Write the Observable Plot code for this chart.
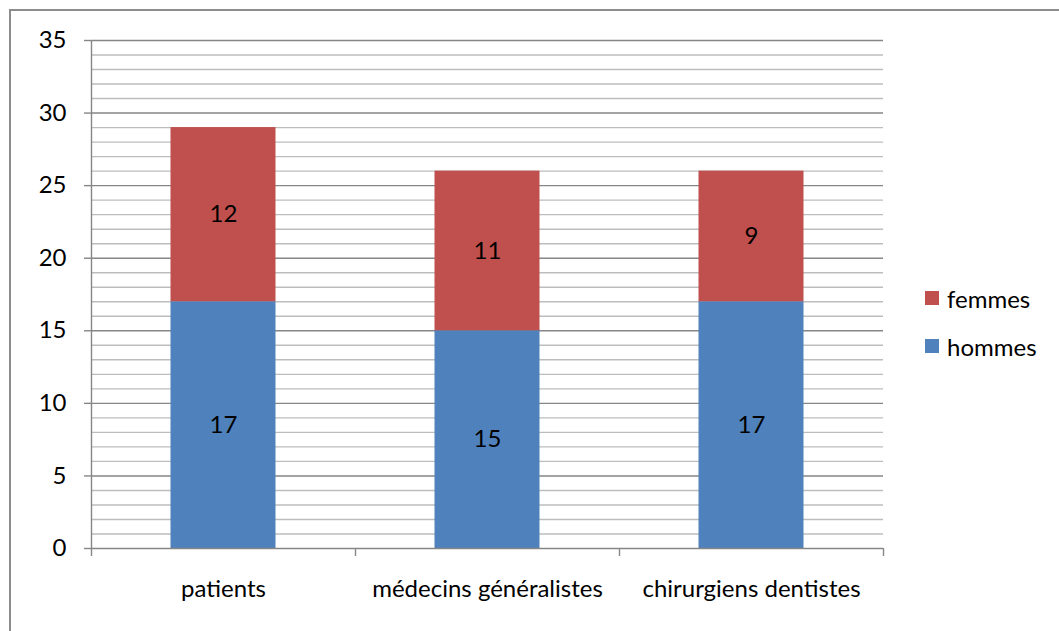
<!DOCTYPE html>
<html>
<head>
<meta charset="utf-8">
<script src="https://cdn.jsdelivr.net/npm/d3@7"></script>
<script src="https://cdn.jsdelivr.net/npm/@observablehq/plot@0.6"></script>
<style>
  html, body { margin: 0; padding: 0; background: #fff; }
  #wrap { position: relative; width: 1059px; height: 631px; overflow: hidden; font-family: Lato, "Open Sans", sans-serif; }
  #frame { position: absolute; left: 9px; top: 9px; width: 1100px; height: 700px; border-left: 2px solid #8c8c8c; border-top: 2px solid #8c8c8c; }
  #legend { position: absolute; left: 925px; top: 285px; font-size: 24px; color: #000; }
  .item { display: flex; align-items: center; height: 26px; margin-bottom: 22px; }
  .sw { width: 14px; height: 14px; margin-right: 8px; }
  #chart { position: absolute; left: 0; top: 0; }
</style>
</head>
<body>
<div id="wrap">
  <div id="chart"></div>
  <div id="frame"></div>
  <div id="legend"></div>
</div>
<script>
const categories = ["patients", "médecins généralistes", "chirurgiens dentistes"];
const series = ["hommes", "femmes"];
const hommes = [17, 15, 17];
const femmes = [12, 11, 9];
const colors = ["#4F81BD", "#C0504D"];
const majorTicks = [0, 5, 10, 15, 20, 25, 30, 35];
const minorTicks = d3.range(0, 36);

const data = [];
categories.forEach((c, i) => {
  data.push({cat: c, serie: "hommes", value: hommes[i]});
  data.push({cat: c, serie: "femmes", value: femmes[i]});
});

const W = 1059, H = 631;
const mL = 91, mR = 176, mT = 40, mB = 83;
const step = (W - mL - mR) / categories.length;
const inset = (step - 105) / 2;
const FS = 24;

function axisFrame(index, scales, values, dimensions) {
  const g = d3.create("svg:g").attr("stroke", "#868686").attr("stroke-width", 1.4).attr("fill", "none");
  const y0 = scales.y(0);
  const yTop = scales.y(35);
  const xs = categories.map(c => scales.x(c));
  xs.push(xs[xs.length - 1] + step);
  xs.forEach(x => {
    g.append("line").attr("x1", Math.round(x) + 0.5).attr("x2", Math.round(x) + 0.5)
      .attr("y1", y0).attr("y2", y0 + 8);
  });
  g.append("line").attr("x1", Math.round(xs[0]) + 0.5).attr("x2", Math.round(xs[0]) + 0.5)
    .attr("y1", yTop).attr("y2", y0);
  return g.node();
}

const chart = Plot.plot({
  width: W,
  height: H,
  marginLeft: mL,
  marginRight: mR,
  marginTop: mT,
  marginBottom: mB,
  style: {fontFamily: "Lato, 'Open Sans', sans-serif", fontSize: FS + "px", color: "#000", background: "transparent"},
  x: {domain: categories, padding: 0, label: null},
  y: {domain: [0, 35], label: null},
  color: {domain: series, range: colors},
  marks: [
    Plot.ruleY(minorTicks.filter(t => t % 5 !== 0), {y: d => d, stroke: "#bdbdbd", strokeWidth: 1.4}),
    Plot.ruleY(majorTicks.slice(1), {y: d => d, stroke: "#868686", strokeWidth: 1.4}),
    Plot.barY(data, Plot.stackY({x: "cat", y: "value", fill: "serie", z: "serie", order: series, insetLeft: inset, insetRight: inset})),
    Plot.text(data, Plot.stackY({x: "cat", y: "value", z: "serie", text: "value", order: series, fill: "#000", fontSize: FS})),
    Plot.ruleY([0], {stroke: "#868686", strokeWidth: 1.5}),
    Plot.axisY({ticks: majorTicks, tickSize: 7, tickPadding: 18, stroke: "#868686", strokeWidth: 1.4, fontSize: FS, tickFormat: d => String(d)}),
    Plot.axisX({tickSize: 0, tickPadding: 31, fontSize: FS}),
    axisFrame
  ]
});
document.getElementById("chart").appendChild(chart);

const legend = document.getElementById("legend");
series.slice().reverse().forEach(s => {
  const item = document.createElement("div");
  item.className = "item";
  const sw = document.createElement("div");
  sw.className = "sw";
  sw.style.background = colors[series.indexOf(s)];
  const t = document.createElement("span");
  t.textContent = s;
  item.appendChild(sw);
  item.appendChild(t);
  legend.appendChild(item);
});
</script>
</body>
</html>
